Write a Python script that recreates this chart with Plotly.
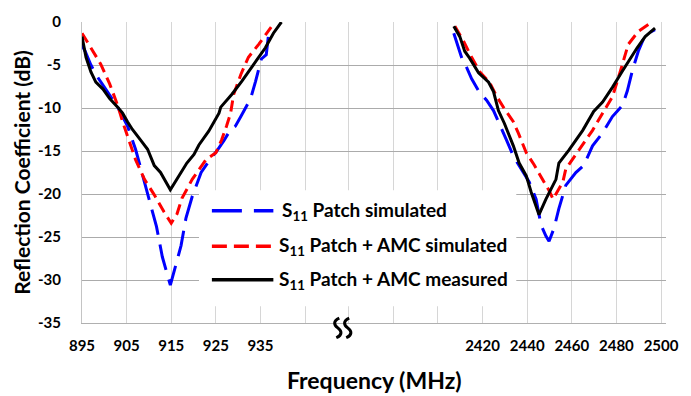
import plotly.graph_objects as go

# ---------------- data ----------------
# 900 MHz band (MHz, dB)
patch_sim_low_f = [895.0, 895.7, 897.0, 898.1, 900.3, 901.7, 903.0, 905.2, 907.0, 907.9, 909.0, 910.1,
                   911.7, 913.0, 914.8, 915.9, 917.2, 918.3, 919.7, 921.7, 923.4, 925.2, 926.8, 928.3,
                   929.4, 930.6, 932.8, 933.9, 934.6, 935.2, 936.3, 936.8, 937.4]
patch_sim_low_db = [-2.7, -3.4, -5.0, -6.1, -7.8, -8.9, -9.9, -12.1, -14.8, -16.5, -18.6, -20.6,
                    -23.8, -27.3, -30.6, -28.5, -26.0, -22.8, -20.3, -17.5, -16.2, -15.0, -13.8, -12.5,
                    -12.1, -11.0, -8.9, -6.9, -5.3, -4.3, -3.8, -1.5, -0.7]

amc_sim_low_f = [895.0, 897.0, 899.2, 901.2, 903.0, 904.1, 905.2, 907.0, 909.0, 911.2, 913.4, 915.0,
                 916.3, 917.4, 919.7, 922.8, 925.0, 926.3, 927.4, 928.3, 929.0, 930.6, 932.3, 934.6,
                 937.4]
amc_sim_low_db = [-1.3, -3.0, -4.9, -7.2, -9.7, -11.6, -13.3, -16.0, -18.3, -20.1, -22.1, -23.4,
                  -22.3, -20.5, -18.3, -16.0, -15.2, -13.7, -12.1, -10.6, -8.4, -6.1, -4.1, -2.6,
                  -0.6]

amc_meas_low_f = [895.0, 895.9, 897.0, 898.1, 899.7, 901.2, 903.0, 904.1, 905.2, 906.3, 908.1, 909.7,
                  911.2, 912.6, 914.8, 916.3, 917.4, 918.5, 920.1, 921.2, 923.4, 924.6, 925.7, 926.1,
                  928.6, 930.8, 932.3, 934.1, 936.1, 937.9, 939.7]
amc_meas_low_db = [-1.7, -4.1, -5.8, -7.0, -7.8, -8.9, -9.9, -10.6, -11.6, -12.5, -13.7, -14.8,
                   -16.7, -17.5, -19.5, -18.3, -17.3, -16.4, -15.4, -14.3, -12.7, -11.6, -10.6, -9.9,
                   -8.4, -6.9, -5.8, -4.6, -3.0, -1.3, 0.0]

# 2.45 GHz band (MHz, dB)
patch_sim_high_f = [2407.1, 2409.3, 2410.7, 2412.9, 2415.1, 2418.2, 2421.8, 2424.9, 2427.6, 2430.7,
                    2433.8, 2437.3, 2440.9, 2444.0, 2446.2, 2448.4, 2449.8, 2452.0, 2454.2, 2457.3,
                    2461.8, 2465.3, 2469.3, 2473.8, 2478.2, 2482.7, 2484.9, 2487.1, 2489.8, 2492.9,
                    2497.3]
patch_sim_high_db = [-1.3, -3.0, -4.2, -5.3, -6.6, -8.0, -9.1, -10.3, -11.8, -13.7,
                     -15.6, -17.1, -18.6, -20.6, -23.6, -24.9, -25.5, -24.0, -21.7, -19.0,
                     -17.5, -16.7, -14.4, -12.9, -11.0, -9.7, -8.0, -5.7, -3.4, -1.5,
                     -0.9]

amc_sim_high_f = [2407.6, 2411.6, 2415.1, 2418.7, 2423.1, 2426.2, 2429.8, 2433.8, 2436.0, 2439.6,
                  2443.1, 2447.1, 2449.8, 2451.6, 2456.0, 2457.3, 2463.1, 2469.3, 2473.8, 2478.2,
                  2481.8, 2485.3, 2489.8, 2496.0]
amc_sim_high_db = [-0.5, -2.3, -4.1, -5.8, -7.0, -8.6, -10.1, -11.6, -12.9, -15.2,
                   -16.6, -18.3, -19.6, -20.6, -18.6, -17.1, -14.9, -12.6, -10.6, -8.7,
                   -5.7, -2.6, -1.1, 0.0]

amc_meas_high_f = [2407.1, 2409.8, 2412.0, 2414.2, 2418.2, 2422.7, 2424.9, 2427.1, 2429.8, 2433.8,
                   2436.4, 2439.6, 2441.8, 2445.3, 2448.4, 2452.9, 2454.2, 2458.7, 2464.9, 2469.8,
                   2473.8, 2478.2, 2482.7, 2485.3, 2489.3, 2492.9, 2497.3]
amc_meas_high_db = [-0.5, -1.7, -3.4, -4.2, -5.9, -7.0, -8.1, -10.3, -11.8, -14.4,
                    -16.4, -17.9, -19.8, -22.4, -20.6, -18.3, -16.4, -14.9, -12.6, -10.4,
                    -9.3, -7.6, -5.7, -4.6, -3.0, -1.7, -0.7]

low_tick_vals = [895, 905, 915, 925, 935]
low_tick_text = ["895", "905", "915", "925", "935"]
low_grid_only = [945]
high_tick_vals = [2420, 2440, 2460, 2480, 2500]
high_tick_text = ["2420", "2440", "2460", "2480", "2500"]
high_grid_only = [2360, 2380, 2400]
y_tick_vals = [0, -5, -10, -15, -20, -25, -30, -35]
y_tick_text = ["0", "-5", "-10", "-15", "-20", "-25", "-30", "-35"]

series_names = ["S<sub>11</sub> Patch simulated",
                "S<sub>11</sub> Patch + AMC simulated",
                "S<sub>11</sub> Patch + AMC measured"]

# ---------------- styling ----------------
FONT = "Lato"
BLUE, RED, BLACK = "#0000FF", "#FF0000", "#000000"
BLUE_DASH, RED_DASH = "26px,10px", "11px,6px"
VGRID = "#d6d6d6"

W, H = 691, 396
ML, MR, MT, MB = 82, 20, 17, 73
PW, PH = W - ML - MR, H - MT - MB
BREAK = 0.438


def px(x):
    return (x - ML) / PW


def py(y):
    return (H - MB - y) / PH


fig = go.Figure()

styles = [(BLUE, BLUE_DASH), (RED, RED_DASH), (BLACK, "solid")]
low = [(patch_sim_low_f, patch_sim_low_db), (amc_sim_low_f, amc_sim_low_db), (amc_meas_low_f, amc_meas_low_db)]
high = [(patch_sim_high_f, patch_sim_high_db), (amc_sim_high_f, amc_sim_high_db),
        (amc_meas_high_f, amc_meas_high_db)]

for (f, d), (c, dash), name in zip(low, styles, series_names):
    fig.add_trace(go.Scatter(x=f, y=d, mode="lines", name=name, showlegend=False,
                             line=dict(color=c, width=3, dash=dash), xaxis="x", yaxis="y"))
for (f, d), (c, dash), name in zip(high, styles, series_names):
    fig.add_trace(go.Scatter(x=f, y=d, mode="lines", name=name, showlegend=False,
                             line=dict(color=c, width=3, dash=dash), xaxis="x2", yaxis="y"))

tickfont = dict(family=FONT, size=15, color="black", weight="bold")
xcommon = dict(showgrid=True, gridcolor=VGRID, gridwidth=1, showline=True, linecolor="#b0b0b0",
               linewidth=1, zeroline=False, ticks="", tickfont=tickfont, ticklabelstandoff=9)

x_left_end = 895 + (BREAK * PW) / 4.5
x_right_start = 2420 - (486 - (ML + BREAK * PW)) / 2.25
x_right_end = 2420 + (W - MR - 486) / 2.25

fig.update_layout(
    width=W, height=H, margin=dict(l=ML, r=MR, t=MT, b=MB),
    paper_bgcolor="white", plot_bgcolor="white",
    xaxis=dict(domain=[0, BREAK], range=[895, x_left_end],
               tickmode="array", tickvals=low_tick_vals, ticktext=low_tick_text, anchor="y",
               minor=dict(tickmode="array", tickvals=low_grid_only, showgrid=True, gridcolor=VGRID,
                          gridwidth=1, ticks=""),
               **xcommon),
    xaxis2=dict(domain=[BREAK, 1], range=[x_right_start, x_right_end],
                tickmode="array", tickvals=high_tick_vals, ticktext=high_tick_text, anchor="y",
                minor=dict(tickmode="array", tickvals=high_grid_only, showgrid=True, gridcolor=VGRID,
                           gridwidth=1, ticks=""),
                **xcommon),
    yaxis=dict(range=[-35, 0], tickmode="array", tickvals=y_tick_vals, ticktext=y_tick_text,
               showgrid=True, gridcolor="#ababab",
               gridwidth=1, showline=True, linecolor="#c4c4c4", linewidth=1, zeroline=False, ticks="",
               tickfont=tickfont, ticklabelstandoff=17,
               title=dict(text="Reflection Coefficient (dB)", standoff=1,
                          font=dict(family=FONT, size=21, color="black", weight="bold"))),
)

# x-axis title
fig.add_annotation(text="Frequency (MHz)", xref="paper", yref="paper", x=0.5, y=py(381),
                   xanchor="center", yanchor="middle", showarrow=False,
                   font=dict(family=FONT, size=23, color="black", weight="bold"))

# axis break mark: two vertical squiggles over the x axis line
def squiggle(cx):
    pts = [(cx + 1.5, 318), (cx - 5, 321), (cx - 4, 325), (cx, 328), (cx + 4, 331), (cx + 5, 335),
           (cx - 1.5, 338)]
    p = [(px(a), py(b)) for a, b in pts]
    return ("M {:.5f},{:.5f} C {:.5f},{:.5f} {:.5f},{:.5f} {:.5f},{:.5f} "
            "C {:.5f},{:.5f} {:.5f},{:.5f} {:.5f},{:.5f}").format(*[v for pt in p for v in pt])


for cx in (340, 350):
    fig.add_shape(type="path", xref="paper", yref="paper", path=squiggle(cx),
                  line=dict(color="black", width=3), layer="above")

# legend box (drawn manually so the long sample lines match)
fig.add_shape(type="rect", xref="paper", yref="paper", x0=px(200), x1=px(520), y0=py(306), y1=py(188),
              fillcolor="white", line=dict(width=0), layer="above")
legend_rows = [209, 245, 279]
legend_text_x = [282, 279, 279]
legend_dash = ["30px,12px", "15px,7px", "solid"]
for (c, _), name, ry, tx, ld in zip(styles, series_names, legend_rows, legend_text_x, legend_dash):
    fig.add_shape(type="line", xref="paper", yref="paper", x0=px(213), x1=px(275), y0=py(ry), y1=py(ry),
                  line=dict(color=c, width=3.5, dash=ld), layer="above")
    fig.add_annotation(text=name, xref="paper", yref="paper", x=px(tx), y=py(ry),
                       xanchor="left", yanchor="middle", showarrow=False,
                       font=dict(family=FONT, size=19, color="black", weight="bold"))

fig.write_html("out.html")
